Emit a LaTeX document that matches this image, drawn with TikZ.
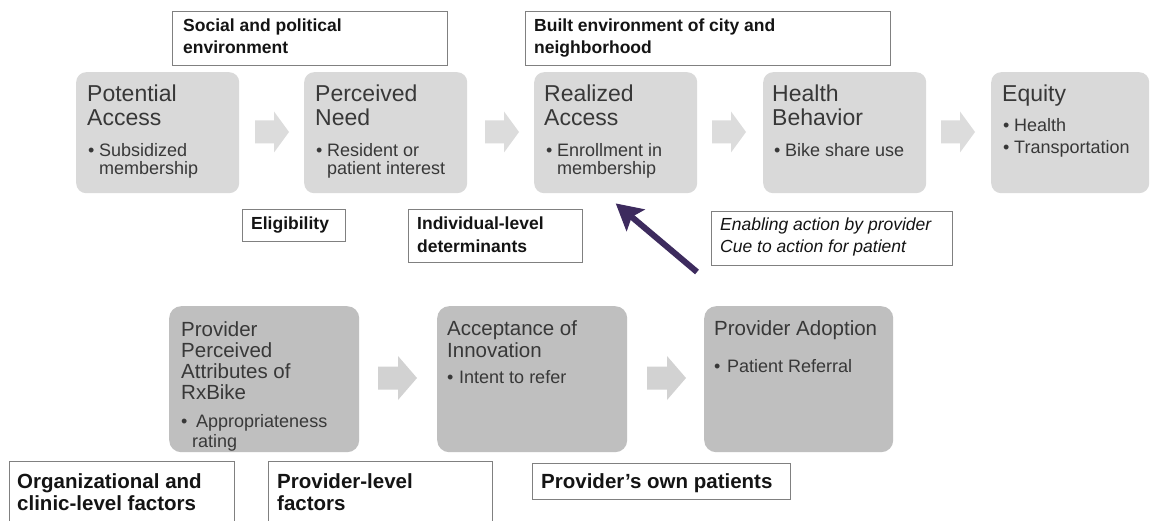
\documentclass[tikz,border=0pt]{standalone}
\usepackage{fontspec}
\setmainfont{Liberation Sans}
\usetikzlibrary{arrows.meta}
\definecolor{topbox}{HTML}{D9D9D9}
\definecolor{botbox}{HTML}{BFBFBF}
\definecolor{toparr}{HTML}{DCDCDC}
\definecolor{botarr}{HTML}{D2D2D2}
\definecolor{txtgray}{HTML}{383838}
\definecolor{lbltxt}{HTML}{141414}
\definecolor{lblborder}{HTML}{808080}
\definecolor{purp}{HTML}{3D2B5E}
\newcommand{\mblock}[3]{\begin{minipage}[t]{260pt}\fontsize{#1}{#2}\selectfont #3\end{minipage}}
\newcommand{\bl}[2][11pt]{\makebox[#1][l]{•}#2}
\newcommand{\blockarrow}[8]{%
  \coordinate (#1) at (#2,#3);
  \fill[#8] (#1) ++(0,-#6) -- ++(#4,0) -- ++(0,#6-#7) -- ++(#5,#7) -- ++(-#5,#7) -- ++(0,#6-#7) -- ++(-#4,0) -- cycle;}
\begin{document}
\begin{tikzpicture}[x=1pt,y=-1pt,
  tbox/.style={fill=topbox, draw=none, rounded corners=10pt, inner sep=0, anchor=north west, minimum width=163pt, minimum height=121pt},
  bbox/.style={fill=botbox, draw=none, rounded corners=12pt, inner sep=0, anchor=north west, minimum width=190pt, minimum height=146pt},
  lbox/.style={fill=white, draw=lblborder, line width=1.2pt, inner sep=0, anchor=north west},
  ttl/.style={anchor=base west, inner sep=0, text=txtgray},
  lbl/.style={anchor=base west, inner sep=0, text=lbltxt},
  purparrow/.style={draw=purp, line width=6pt, -{Stealth[length=26pt,width=28pt,inset=5pt]}}
]
\useasboundingbox (0,0) rectangle (1150,521);
\clip (0,0) rectangle (1150,521);
\fill[white] (0,0) rectangle (1150,521);

% top label boxes
\node[lbox, minimum width=275pt, minimum height=54pt] (soc) at (172,11) {};
\node[lbl] (soc-t) at (183,32) {\mblock{17.5}{22}{\bfseries Social and political\\environment}};
\node[lbox, minimum width=365pt, minimum height=54pt] (blt) at (525,11) {};
\node[lbl] (blt-t) at (534,32) {\mblock{17.5}{22}{\bfseries Built environment of city and\\neighborhood}};

% top row boxes
\node[tbox] (pa) at (76,72) {};
\node[ttl] (pa-t) at (87,102) {\mblock{23}{24}{Potential\\Access}};
\node[ttl] (pa-b) at (88,157) {\mblock{18}{18}{\bl{Subsidized}\\\hspace*{11pt}membership}};

\node[tbox] (pn) at (304,72) {};
\node[ttl] (pn-t) at (315,102) {\mblock{23}{24}{Perceived\\Need}};
\node[ttl] (pn-b) at (316,157) {\mblock{18}{18}{\bl{Resident or}\\\hspace*{11pt}patient interest}};

\node[tbox] (ra) at (534,72) {};
\node[ttl] (ra-t) at (544,102) {\mblock{23}{24}{Realized\\Access}};
\node[ttl] (ra-b) at (546,157) {\mblock{18}{18}{\bl{Enrollment in}\\\hspace*{11pt}membership}};

\node[tbox] (hb) at (763,72) {};
\node[ttl] (hb-t) at (772,102) {\mblock{23}{24}{Health\\Behavior}};
\node[ttl] (hb-b) at (774,157) {\mblock{18}{18}{\bl{Bike share use}}};

\node[tbox, minimum width=158pt] (eq) at (991,72) {};
\node[ttl] (eq-t) at (1002,102) {\mblock{23}{24}{Equity}};
\node[ttl] (eq-b) at (1003,132) {\mblock{18}{18}{\bl{Health}\\[3.7pt]\bl{Transportation}}};

% top block arrows
\blockarrow{a1}{255}{132}{19}{15}{11.5}{20.5}{toparr}
\blockarrow{a2}{485}{132}{19}{15}{11.5}{20.5}{toparr}
\blockarrow{a3}{712}{132}{19}{15}{11.5}{20.5}{toparr}
\blockarrow{a4}{941}{132}{19}{15}{11.5}{20.5}{toparr}

% middle labels
\node[lbox, minimum width=103pt, minimum height=32pt] (elg) at (242,209) {};
\node[lbl] (elg-t) at (251,230) {\mblock{17.5}{22}{\bfseries Eligibility}};
\node[lbox, minimum width=174pt, minimum height=53pt] (ind) at (408,209) {};
\node[lbl] (ind-t) at (417,230) {\mblock{17.5}{22}{\bfseries Individual-level\\determinants}};
\node[lbox, minimum width=241pt, minimum height=54pt] (enb) at (711,211) {};
\node[lbl] (enb-t) at (720,231) {\mblock{17.5}{21}{\itshape Enabling action by provider\\Cue to action for patient}};

% purple arrow
\coordinate (tail) at (697,272);
\draw[purparrow] (tail) -- ([yshift=-10pt]ra.south);

% bottom row boxes
\node[bbox] (pp) at (169,306) {};
\node[ttl] (pp-t) at (181,336) {\mblock{20.5}{21}{Provider\\Perceived\\Attributes of\\RxBike}};
\node[ttl] (pp-b) at (181,427) {\mblock{18}{20}{\bl[15pt]{Appropriateness}\\\hspace*{11pt}rating}};

\node[bbox] (ai) at (437,306) {};
\node[ttl] (ai-t) at (447,335) {\mblock{20.5}{22}{Acceptance of\\Innovation}};
\node[ttl] (ai-b) at (447,383) {\mblock{18}{20}{\bl[12pt]{Intent to refer}}};

\node[bbox, minimum width=189pt] (pad) at (704,306) {};
\node[ttl] (pad-t) at (714,335) {\mblock{20.5}{22}{Provider Adoption}};
\node[ttl] (pad-b) at (714,372) {\mblock{18}{20}{\bl[13pt]{Patient Referral}}};

% bottom block arrows
\blockarrow{a5}{378}{378}{20}{19}{11.5}{22}{botarr}
\blockarrow{a6}{647}{378}{20}{19}{11.5}{22}{botarr}

% bottom labels
\node[lbox, minimum width=225pt, minimum height=75pt] (org) at (9,461) {};
\node[lbl] (org-t) at (17,488) {\mblock{20.5}{22}{\bfseries Organizational and\\clinic-level factors}};
\node[lbox, minimum width=224pt, minimum height=75pt] (prl) at (268,461) {};
\node[lbl] (prl-t) at (277,488) {\mblock{20.5}{22}{\bfseries Provider-level\\factors}};
\node[lbox, minimum width=258pt, minimum height=36pt] (own) at (532,463) {};
\node[lbl] (own-t) at (541,488) {\mblock{20.5}{22}{\bfseries Provider’s own patients}};
\end{tikzpicture}
\end{document}
